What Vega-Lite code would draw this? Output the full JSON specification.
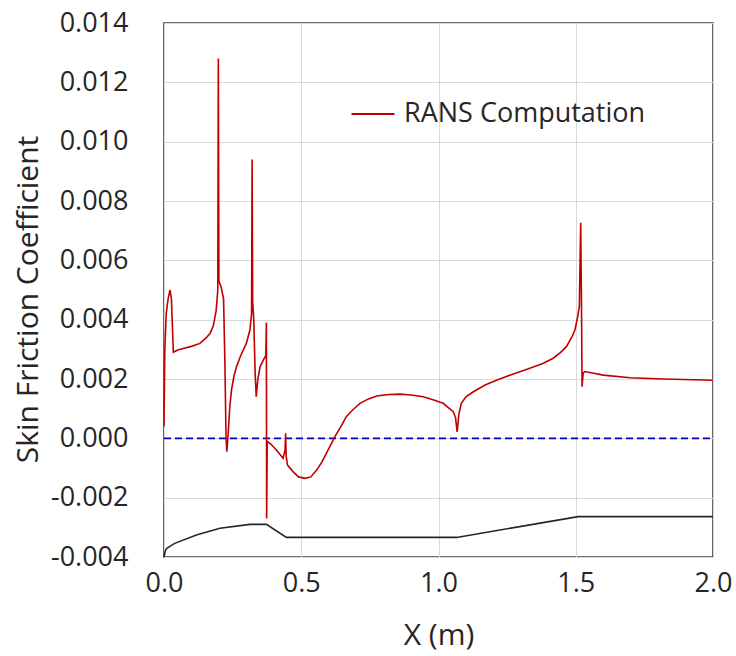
{
  "$schema": "https://vega.github.io/schema/vega-lite/v6.json",
  "width": 549,
  "height": 534,
  "autosize": "none",
  "padding": {"left": 164, "top": 23, "right": 23, "bottom": 99},
  "background": "white",
  "config": {
    "font": "Open Sans",
    "view": {"stroke": "#404040", "strokeWidth": 1.6},
    "axis": {
      "domain": false,
      "ticks": false,
      "grid": true,
      "gridColor": "#d9d9d9",
      "gridWidth": 1,
      "labelFlush": false,
      "labelFont": "Open Sans",
      "labelFontSize": 27,
      "labelColor": "#262626",
      "titleFont": "Open Sans",
      "titleFontSize": 30,
      "titleFontWeight": "normal",
      "titleColor": "#262626"
    }
  },
  "datasets": {
    "rans": [
      {"x": 0.000, "cf": 0.0004},
      {"x": 0.003, "cf": 0.0030},
      {"x": 0.008, "cf": 0.0042},
      {"x": 0.015, "cf": 0.0047},
      {"x": 0.022, "cf": 0.0050},
      {"x": 0.027, "cf": 0.0047},
      {"x": 0.034, "cf": 0.0029},
      {"x": 0.050, "cf": 0.00298},
      {"x": 0.070, "cf": 0.00303},
      {"x": 0.100, "cf": 0.0031},
      {"x": 0.131, "cf": 0.0032},
      {"x": 0.155, "cf": 0.0034},
      {"x": 0.168, "cf": 0.00354},
      {"x": 0.180, "cf": 0.0038},
      {"x": 0.190, "cf": 0.0043},
      {"x": 0.196, "cf": 0.0050},
      {"x": 0.198, "cf": 0.0128},
      {"x": 0.200, "cf": 0.0053},
      {"x": 0.208, "cf": 0.0051},
      {"x": 0.217, "cf": 0.0047},
      {"x": 0.222, "cf": 0.0025},
      {"x": 0.226, "cf": 0.0000},
      {"x": 0.229, "cf": -0.00045},
      {"x": 0.234, "cf": 0.0002},
      {"x": 0.240, "cf": 0.0011},
      {"x": 0.246, "cf": 0.00163},
      {"x": 0.255, "cf": 0.0021},
      {"x": 0.264, "cf": 0.00241},
      {"x": 0.280, "cf": 0.0028},
      {"x": 0.300, "cf": 0.0032},
      {"x": 0.313, "cf": 0.00365},
      {"x": 0.319, "cf": 0.0042},
      {"x": 0.321, "cf": 0.0094},
      {"x": 0.323, "cf": 0.0046},
      {"x": 0.327, "cf": 0.0040},
      {"x": 0.332, "cf": 0.0022},
      {"x": 0.336, "cf": 0.0014},
      {"x": 0.342, "cf": 0.0020},
      {"x": 0.350, "cf": 0.00241},
      {"x": 0.360, "cf": 0.0026},
      {"x": 0.371, "cf": 0.0028},
      {"x": 0.373, "cf": 0.0039},
      {"x": 0.374, "cf": -0.0027},
      {"x": 0.376, "cf": -0.0001},
      {"x": 0.390, "cf": -0.0002},
      {"x": 0.410, "cf": -0.0004},
      {"x": 0.434, "cf": -0.00067},
      {"x": 0.441, "cf": -0.0004},
      {"x": 0.443, "cf": 0.00017},
      {"x": 0.445, "cf": -0.0006},
      {"x": 0.450, "cf": -0.0009},
      {"x": 0.471, "cf": -0.00113},
      {"x": 0.490, "cf": -0.0013},
      {"x": 0.514, "cf": -0.00135},
      {"x": 0.535, "cf": -0.0013},
      {"x": 0.556, "cf": -0.00107},
      {"x": 0.575, "cf": -0.0008},
      {"x": 0.592, "cf": -0.0005},
      {"x": 0.622, "cf": 0.00005},
      {"x": 0.645, "cf": 0.0004},
      {"x": 0.664, "cf": 0.00073},
      {"x": 0.690, "cf": 0.00098},
      {"x": 0.714, "cf": 0.00118},
      {"x": 0.745, "cf": 0.00133},
      {"x": 0.775, "cf": 0.00143},
      {"x": 0.820, "cf": 0.00148},
      {"x": 0.860, "cf": 0.00149},
      {"x": 0.900, "cf": 0.00146},
      {"x": 0.944, "cf": 0.0014},
      {"x": 0.980, "cf": 0.0013},
      {"x": 1.017, "cf": 0.00118},
      {"x": 1.040, "cf": 0.0010},
      {"x": 1.054, "cf": 0.0009},
      {"x": 1.062, "cf": 0.0007},
      {"x": 1.068, "cf": 0.00022},
      {"x": 1.074, "cf": 0.0008},
      {"x": 1.083, "cf": 0.00118},
      {"x": 1.100, "cf": 0.0014},
      {"x": 1.127, "cf": 0.00157},
      {"x": 1.170, "cf": 0.0018},
      {"x": 1.211, "cf": 0.00196},
      {"x": 1.270, "cf": 0.00216},
      {"x": 1.333, "cf": 0.00236},
      {"x": 1.380, "cf": 0.00252},
      {"x": 1.418, "cf": 0.0027},
      {"x": 1.445, "cf": 0.0029},
      {"x": 1.466, "cf": 0.00309},
      {"x": 1.485, "cf": 0.0034},
      {"x": 1.497, "cf": 0.00365},
      {"x": 1.507, "cf": 0.0041},
      {"x": 1.513, "cf": 0.00444},
      {"x": 1.518, "cf": 0.00727},
      {"x": 1.521, "cf": 0.0044},
      {"x": 1.523, "cf": 0.00174},
      {"x": 1.527, "cf": 0.0022},
      {"x": 1.533, "cf": 0.00225},
      {"x": 1.600, "cf": 0.00213},
      {"x": 1.698, "cf": 0.00204},
      {"x": 1.820, "cf": 0.0020},
      {"x": 2.000, "cf": 0.00196}
    ],
    "geom": [
      {"x": 0.000, "cf": -0.0040},
      {"x": 0.005, "cf": -0.00378},
      {"x": 0.010, "cf": -0.00371},
      {"x": 0.039, "cf": -0.00354},
      {"x": 0.118, "cf": -0.00326},
      {"x": 0.204, "cf": -0.00303},
      {"x": 0.313, "cf": -0.0029},
      {"x": 0.373, "cf": -0.0029},
      {"x": 0.446, "cf": -0.00334},
      {"x": 1.066, "cf": -0.00334},
      {"x": 1.509, "cf": -0.00264},
      {"x": 2.000, "cf": -0.00264}
    ],
    "zero": [
      {"x": 0.0, "cf": 0.0},
      {"x": 2.0, "cf": 0.0}
    ]
  },
  "encoding": {
    "x": {
      "field": "x",
      "type": "quantitative",
      "scale": {"domain": [0, 2], "nice": false, "zero": false},
      "axis": {
        "title": "X (m)",
        "values": [0, 0.5, 1.0, 1.5, 2.0],
        "format": ".1f",
        "labelPadding": 13,
        "titleY": 78,
        "titleBaseline": "middle"
      }
    },
    "y": {
      "field": "cf",
      "type": "quantitative",
      "scale": {"domain": [-0.004, 0.014], "nice": false, "zero": false},
      "axis": {
        "title": "Skin Friction Coefficient",
        "values": [-0.004, -0.002, 0, 0.002, 0.004, 0.006, 0.008, 0.010, 0.012, 0.014],
        "labelExpr": "replace(format(datum.value, '.3f'), '\u2212', '-')",
        "labelPadding": 36,
        "titleX": -136,
        "titleY": 276,
        "titleAngle": -90,
        "titleBaseline": "middle",
        "titleAlign": "center"
      }
    }
  },
  "layer": [
    {
      "data": {"name": "zero"},
      "mark": {"type": "line", "color": "#0000c0", "strokeWidth": 1.6, "strokeDash": [7, 4]}
    },
    {
      "data": {"name": "geom"},
      "mark": {"type": "line", "color": "#262626", "strokeWidth": 1.6}
    },
    {
      "data": {"name": "rans"},
      "transform": [{"calculate": "'RANS Computation'", "as": "series"}],
      "mark": {"type": "line", "strokeWidth": 1.6},
      "encoding": {
        "color": {
          "field": "series",
          "type": "nominal",
          "scale": {"domain": ["RANS Computation"], "range": ["#c00000"]},
          "legend": {
            "title": null,
            "orient": "none",
            "legendX": 186,
            "legendY": 68,
            "symbolType": "stroke",
            "symbolSize": 1850,
            "symbolStrokeWidth": 2,
            "labelFont": "Open Sans",
            "labelFontSize": 27,
            "labelLimit": 400,
            "labelColor": "#262626",
            "labelOffset": 8
          }
        }
      }
    }
  ]
}
